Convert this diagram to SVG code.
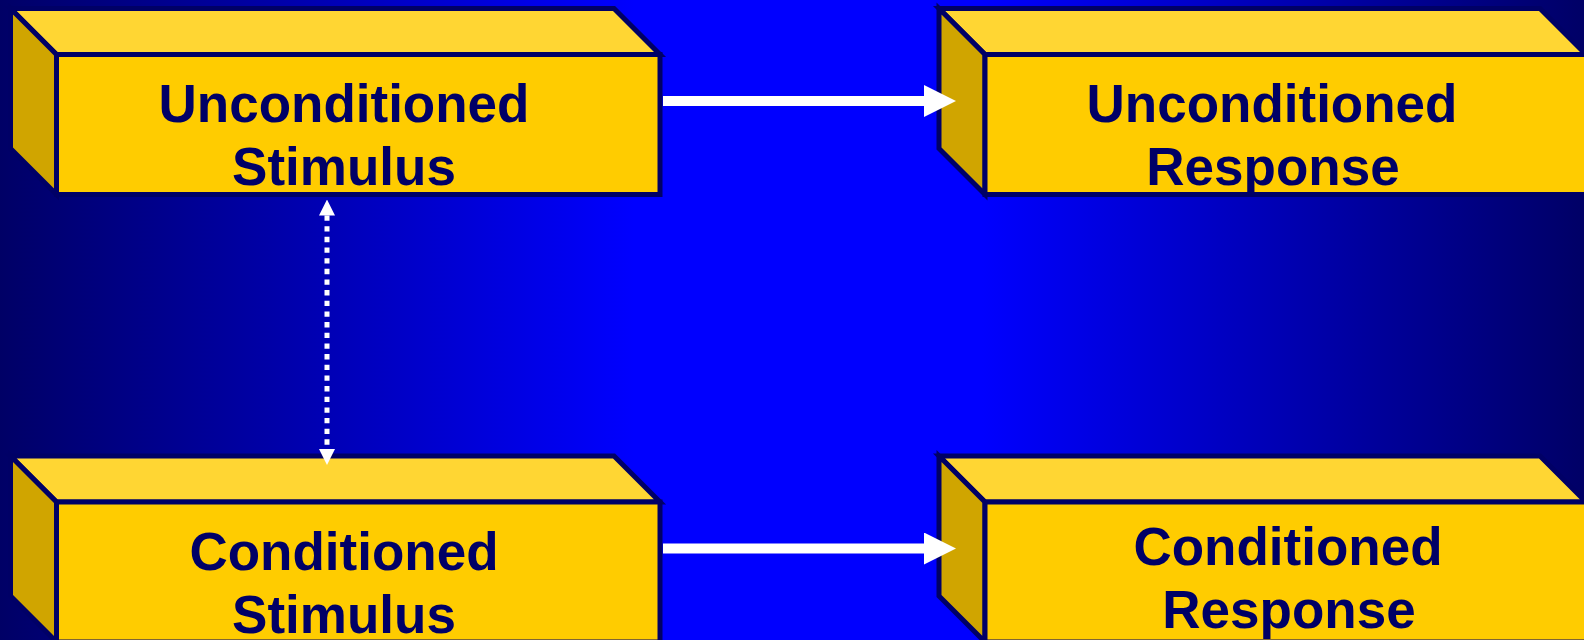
<svg xmlns="http://www.w3.org/2000/svg" width="1584" height="640" viewBox="0 0 1584 640">
  <defs>
    <linearGradient id="bg" x1="0" y1="0" x2="1" y2="0">
      <stop offset="0" stop-color="#000066"/>
      <stop offset="0.40" stop-color="#0000FF"/>
      <stop offset="0.62" stop-color="#0000FF"/>
      <stop offset="1" stop-color="#000066"/>
    </linearGradient>
    <marker id="ah" markerUnits="userSpaceOnUse" markerWidth="32" markerHeight="32" refX="0" refY="16" orient="auto" viewBox="0 0 32 32">
      <path d="M0,0 L32,16 L0,32 Z" fill="#FFFFFF"/>
    </marker>
    <marker id="ahs" markerUnits="userSpaceOnUse" markerWidth="16" markerHeight="16" refX="0" refY="8" orient="auto-start-reverse" viewBox="0 0 16 16">
      <path d="M0,0 L16,8 L0,16 Z" fill="#FFFFFF"/>
    </marker>
  </defs>
  <style>
    .top { fill: #FFD633; stroke: #000066; stroke-width: 5; stroke-linejoin: miter; }
    .side { fill: #D0A500; stroke: #000066; stroke-width: 5; stroke-linejoin: miter; }
    .front { fill: #FFCC00; stroke: #000066; stroke-width: 5; stroke-linejoin: miter; }
    .lbl { font-family: "Liberation Sans", Arial, sans-serif; font-weight: bold; font-size: 53px; fill: #000066; text-anchor: middle; }
    .conn { stroke: #FFFFFF; stroke-width: 10; fill: none; }
    .dots { stroke: #FFFFFF; stroke-width: 5; stroke-dasharray: 5.33 5.33; fill: none; }
  </style>
  <rect x="0" y="0" width="1584" height="640" fill="url(#bg)"/>

  <g id="unconditioned-stimulus">
    <polygon class="top" points="10.5,8.5 614,8.5 660,54.5 56.5,54.5"/>
    <polygon class="side" points="10.5,8.5 56.5,54.5 56.5,194.5 10.5,148.5"/>
    <rect class="front" x="56.5" y="54.5" width="603.5" height="140"/>
    <text class="lbl" x="344" y="122">Unconditioned</text>
    <text class="lbl" x="344" y="185">Stimulus</text>
  </g>

  <g id="unconditioned-response">
    <polygon class="top" points="939,8.5 1540,8.5 1586,54.5 985,54.5"/>
    <polygon class="side" points="939,8.5 985,54.5 985,194.5 939,148.5"/>
    <rect class="front" x="985" y="54.5" width="610" height="140"/>
    <text class="lbl" x="1272" y="122">Unconditioned</text>
    <text class="lbl" x="1273" y="185">Response</text>
  </g>

  <g id="conditioned-stimulus">
    <polygon class="top" points="10.5,456 614,456 660,502 56.5,502"/>
    <polygon class="side" points="10.5,456 56.5,502 56.5,642 10.5,596"/>
    <rect class="front" x="56.5" y="502" width="603.5" height="140"/>
    <text class="lbl" x="344" y="570">Conditioned</text>
    <text class="lbl" x="344" y="633">Stimulus</text>
  </g>

  <g id="conditioned-response">
    <polygon class="top" points="939,456 1540,456 1586,502 985,502"/>
    <polygon class="side" points="939,456 985,502 985,642 939,596"/>
    <rect class="front" x="985" y="502" width="610" height="140"/>
    <text class="lbl" x="1288" y="565">Conditioned</text>
    <text class="lbl" x="1289" y="628">Response</text>
  </g>

  <g id="connectors">
    <line class="conn" x1="663" y1="101" x2="924" y2="101" marker-end="url(#ah)"/>
    <line class="conn" x1="663" y1="548.5" x2="924" y2="548.5" marker-end="url(#ah)"/>
    <line class="dots" x1="327" y1="215.5" x2="327" y2="449" marker-start="url(#ahs)" marker-end="url(#ahs)"/>
  </g>
</svg>
